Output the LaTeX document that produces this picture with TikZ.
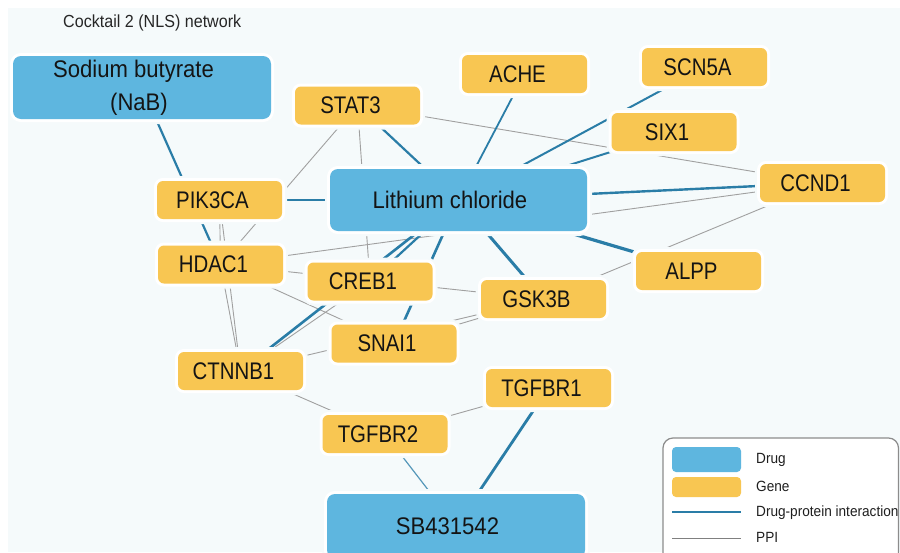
\documentclass[tikz,border=0pt]{standalone}
\usepackage{fontspec}
\setmainfont{Liberation Sans}[FakeStretch=0.85]
\newfontfamily\widefont{Liberation Sans}[FakeStretch=0.92]
\pgfdeclarelayer{background}
\pgfsetlayers{background,main}
\definecolor{bgcol}{HTML}{F5FAFB}
\definecolor{drugcol}{HTML}{5EB6DF}
\definecolor{genecol}{HTML}{F8C652}
\definecolor{dpicol}{HTML}{2A7DA7}
\definecolor{ppicol}{HTML}{A0A0A0}
\newcommand{\glbl}[1]{\hspace*{-14pt}#1}
\newcommand{\dlbl}[1]{\hspace*{-17pt}#1}
\tikzset{
	box/.style={rectangle, inner sep=0pt, text=black!92,
		preaction={draw=bgcol, line width=10pt},
		preaction={draw=white, line width=6pt}},
	gene/.style={box, fill=genecol, rounded corners=6pt, minimum width=125pt, minimum height=38pt, font=\fontsize{24}{28}\selectfont},
	drug/.style={box, fill=drugcol, rounded corners=8pt, minimum width=258pt, minimum height=63pt, align=center, font=\widefont\fontsize{24}{33}\selectfont},
	dpi/.style={draw=dpicol, line width=2.2pt},
	ppi/.style={draw=ppicol, line width=0.9pt},
	legtext/.style={anchor=base west, inner sep=0pt, text=black!88, font=\widefont\fontsize{14.8}{17}\selectfont}
}

\begin{document}
\begin{tikzpicture}[x=1pt, y=-1pt]
			%%%%% START %%%%%
			\useasboundingbox (0,0) rectangle (900,552);
			\clip (0,0) rectangle (900,552);
			
			\node[anchor=base west, inner sep=0pt, text=black!85, font=\widefont\fontsize{17.5}{20}\selectfont] (title) at (63,27) {Cocktail 2 (NLS) network};
			
			% drugs
			\node[drug] (nab) at (142,87.5) {\dlbl{Sodium butyrate}\\\hspace*{-6pt}(NaB)};
			\node[drug, minimum width=257pt, minimum height=62pt] (licl) at (458.5,200) {\dlbl{Lithium chloride}};
			\node[drug, minimum height=64pt] (sb) at (456,526) {\dlbl{SB431542}};
			
			% genes
			\node[gene] (stat) at (357.5,105.5) {\glbl{STAT3}};
			\node[gene] (ache) at (524.5,74) {\glbl{ACHE}};
			\node[gene] (scn) at (704.5,67) {\glbl{SCN5A}};
			\node[gene] (six) at (674,132) {\glbl{SIX1}};
			\node[gene] (ccnd) at (822.5,183) {\glbl{CCND1}};
			\node[gene] (pik) at (219.5,200) {\glbl{PIK3CA}};
			\node[gene] (hdac) at (220.5,264.5) {\glbl{HDAC1}};
			\node[gene] (creb) at (370,281.5) {\glbl{CREB1}};
			\node[gene] (alpp) at (698.5,271) {\glbl{ALPP}};
			\node[gene] (gsk) at (543.5,299) {\glbl{GSK3B}};
			\node[gene] (snai) at (394,343.5) {\glbl{SNAI1}};
			\node[gene] (ctnnb) at (240.5,371) {\glbl{CTNNB1}};
			\node[gene] (tgfa) at (548.5,388) {\glbl{TGFBR1}};
			\node[gene] (tgfb) at (385,434) {\glbl{TGFBR2}};
			
			\begin{pgfonlayer}{background}
			\fill[bgcol] (8,8) rectangle (900,552);
			
			% PPI
			\draw[ppi] (stat) -- (hdac);
			\draw[ppi] (stat) -- (creb);
			\draw[ppi] (stat) -- (ccnd);
			\draw[ppi] (hdac) -- (ccnd);
			\draw[ppi] (ccnd) -- (gsk);
			\draw[ppi] (pik) -- (hdac);
			\draw[ppi] (pik) -- (ctnnb);
			\draw[ppi] (hdac) -- (ctnnb);
			\draw[ppi] (hdac) -- (gsk);
			\draw[ppi] (hdac) -- (snai);
			\draw[ppi] (creb) -- (ctnnb);
			\draw[ppi] (ctnnb) -- (gsk);
			\draw[ppi] (snai) -- (gsk);
			\draw[ppi] (ctnnb) -- (tgfb);
			\draw[ppi] (tgfb) -- (tgfa);
			
			% drug-protein
			\draw[dpi] (nab) -- (hdac);
			\draw[dpi] (stat) -- (licl);
			\draw[dpi, line width=1.8pt] (ache) -- (licl);
			\draw[dpi, line width=2pt] (scn) -- (licl);
			\draw[dpi, line width=2pt] (six) -- (licl);
			\draw[dpi, line width=2.4pt] (licl) -- (ccnd);
			\draw[dpi, line width=3.2pt] (licl) -- (alpp);
			\draw[dpi, line width=3pt] (licl) -- (gsk);
			\draw[dpi, line width=2.6pt] (licl) -- (snai);
			\draw[dpi, line width=2.6pt] (licl) -- (ctnnb);
			\draw[dpi] (licl) -- (creb);
			\draw[dpi, line width=2pt] (licl) -- (pik);
			\draw[dpi, line width=2.8pt] (sb) -- (tgfa);
			\draw[dpi, draw=dpicol!80, line width=1.2pt] (sb) -- (tgfb);
			\end{pgfonlayer}
			
			% legend
			\draw[rounded corners=10pt, draw=black!45, line width=1.2pt, fill=white] (663,438) rectangle (898.5,590);
			\fill[drugcol, rounded corners=4pt] (672,447) rectangle (741,472);
			\fill[genecol, rounded corners=4pt] (672,477) rectangle (741,497);
			\coordinate (dpia) at (672,512);
			\coordinate (dpib) at (741,512);
			\coordinate (ppia) at (672,538);
			\coordinate (ppib) at (741,538);
			\draw[dpi, line width=2.6pt] (dpia) -- (dpib);
			\draw[ppi, draw=black!50] (ppia) -- (ppib);
			\node[legtext] (legdrug) at (756,463) {Drug};
			\node[legtext] (leggene) at (756,491) {Gene};
			\node[legtext] (legdpi) at (756,516) {Drug-protein interaction};
			\node[legtext] (legppi) at (756,542) {PPI};
			%%%%% END %%%%%
\end{tikzpicture}
\end{document}
